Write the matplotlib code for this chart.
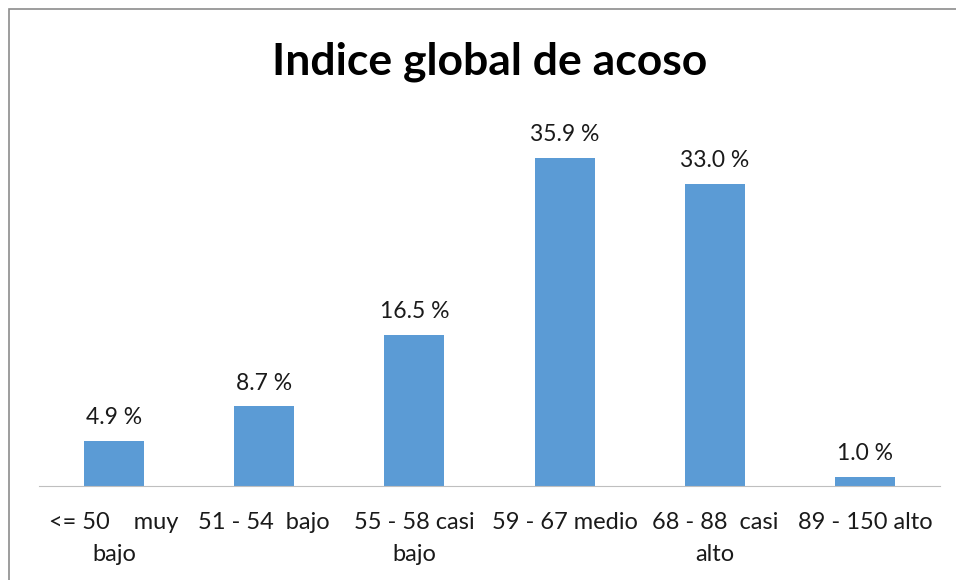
import matplotlib.pyplot as plt
from matplotlib.patches import Rectangle

categories = ["<= 50    muy\nbajo", "51 - 54  bajo", "55 - 58 casi\nbajo",
              "59 - 67 medio", "68 - 88  casi\nalto", "89 - 150 alto"]
values = [4.9, 8.7, 16.5, 35.9, 33.0, 1.0]
title = "Indice global de acoso"

plt.rcParams['font.family'] = ['Lato', 'DejaVu Sans']

fig = plt.figure(figsize=(9.56, 5.8), dpi=100)
# outer chart frame
fig.patches.append(Rectangle((9 / 956, -0.05), 1.0, 1.05 - 9 / 580,
                             transform=fig.transFigure, fill=False,
                             edgecolor='#8c8c8c', linewidth=1.2))

ax = fig.add_axes([39 / 956, 94 / 580, 901 / 956, 366 / 580])
x = range(len(categories))
bars = ax.bar(x, values, width=0.4, color='#5B9BD5')
for b, v in zip(bars, values):
    ax.text(b.get_x() + b.get_width() / 2, v + 1.4, f"{v:.1f} %",
            ha='center', va='bottom', fontsize=16.5, color='#1a1a1a')

ax.set_xlim(-0.5, len(categories) - 0.5)
ax.set_ylim(0, 40)
ax.set_xticks(list(x))
ax.set_xticklabels(categories, fontsize=17, color='#1a1a1a', linespacing=1.6)
ax.tick_params(axis='x', length=0, pad=19)
ax.set_yticks([])
for s in ['top', 'right', 'left']:
    ax.spines[s].set_visible(False)
ax.spines['bottom'].set_color('#bfbfbf')

fig.text(490 / 956, 1 - 62 / 580, title, ha='center', va='center',
         fontsize=32, fontweight='bold', color='black')

fig.savefig('out.png', dpi=100)
